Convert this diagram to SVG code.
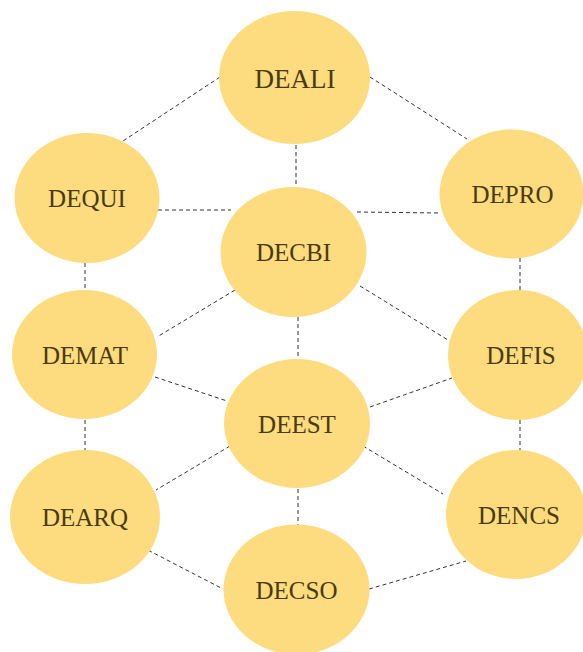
<svg xmlns="http://www.w3.org/2000/svg" width="583" height="652" viewBox="0 0 583 652">
<style>
.n{fill:#FDDB7F;}
.t{font-family:"Liberation Serif","Times New Roman",serif;font-size:25px;fill:#4A3A0C;text-anchor:middle;}
.c line{stroke:#333;stroke-width:1;stroke-dasharray:4 3;fill:none;}
</style>
<rect width="583" height="652" fill="#fff"/>
<g class="c" id="connectors">
<line x1="220" y1="77" x2="120" y2="143"/>
<line x1="370" y1="77" x2="467" y2="139"/>
<line x1="296" y1="145" x2="296" y2="187"/>
<line x1="158" y1="210" x2="231" y2="210"/>
<line x1="357" y1="212" x2="440" y2="213"/>
<line x1="85" y1="263" x2="85" y2="290"/>
<line x1="520" y1="258" x2="520" y2="290"/>
<line x1="235" y1="290" x2="157" y2="337"/>
<line x1="360" y1="286" x2="448" y2="340"/>
<line x1="298" y1="317" x2="298" y2="359"/>
<line x1="155" y1="377" x2="227" y2="401"/>
<line x1="370" y1="407" x2="452" y2="378"/>
<line x1="85" y1="420" x2="85" y2="450"/>
<line x1="520" y1="420" x2="520" y2="450"/>
<line x1="230" y1="446" x2="156" y2="490"/>
<line x1="363" y1="446" x2="443" y2="494"/>
<line x1="298" y1="489" x2="298" y2="525"/>
<line x1="142" y1="547" x2="223" y2="589"/>
<line x1="369" y1="589" x2="466" y2="561"/>
</g>
<g id="DEALI"><ellipse class="n" cx="294.5" cy="77.5" rx="75.5" ry="66.5"/><text class="t" x="295" y="87.5" style="font-size:27px">DEALI</text></g>
<g id="DEQUI"><ellipse class="n" cx="87" cy="198" rx="72.5" ry="65"/><text class="t" x="87" y="207">DEQUI</text></g>
<g id="DEPRO"><ellipse class="n" cx="511.5" cy="194" rx="72" ry="64.5"/><text class="t" x="512.5" y="203">DEPRO</text></g>
<g id="DECBI"><ellipse class="n" cx="293.5" cy="252" rx="73" ry="65"/><text class="t" x="293.5" y="261">DECBI</text></g>
<g id="DEMAT"><ellipse class="n" cx="84.5" cy="354.5" rx="72.5" ry="64.5"/><text class="t" x="85" y="363.5">DEMAT</text></g>
<g id="DEFIS"><ellipse class="n" cx="518" cy="355" rx="70" ry="65"/><text class="t" x="521" y="364">DEFIS</text></g>
<g id="DEEST"><ellipse class="n" cx="297" cy="423.5" rx="73" ry="64.5"/><text class="t" x="297" y="432.5">DEEST</text></g>
<g id="DEARQ"><ellipse class="n" cx="85" cy="517" rx="75" ry="67"/><text class="t" x="85" y="525.5">DEARQ</text></g>
<g id="DENCS"><ellipse class="n" cx="516" cy="514.5" rx="70" ry="64.5"/><text class="t" x="519" y="524">DENCS</text></g>
<g id="DECSO"><ellipse class="n" cx="296.5" cy="589.5" rx="73" ry="65"/><text class="t" x="296.5" y="598.5">DECSO</text></g>
</svg>
